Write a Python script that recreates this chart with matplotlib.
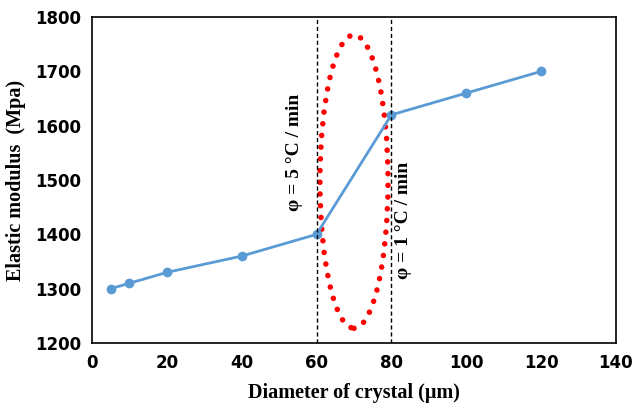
import matplotlib.pyplot as plt
from matplotlib.patches import Ellipse

# Data
diameter = [5, 10, 20, 40, 60, 80, 100, 120]
modulus = [1300, 1310, 1330, 1360, 1400, 1620, 1660, 1700]
rate_lines = [60, 80]
rate_labels = ['φ = 5 °C / min', 'φ = 1 °C / min']

fig = plt.figure(figsize=(6.32, 4.16), dpi=100)
ax = fig.add_axes([0.1456, 0.1755, 0.829, 0.7835])

ax.plot(diameter, modulus, '-o', color='#5B9BD5', lw=2, ms=6)

for xv in rate_lines:
    ax.axvline(xv, color='black', ls=(0, (3, 2)), lw=1)

ell = Ellipse((70, 1497), 18.2, 540, fill=False, edgecolor='red',
              lw=4, ls=(0, (0.01, 2.1)))
ell.set_capstyle('round')
ax.add_patch(ell)

ax.text(54.2, 1551, rate_labels[0], rotation=90, ha='center', va='center',
        fontsize=14, fontweight='bold', family='Liberation Serif')
ax.text(83.3, 1426, rate_labels[1], rotation=90, ha='center', va='center',
        fontsize=14, fontweight='bold', family='Liberation Serif')

ax.set_xlim(0, 140)
ax.set_ylim(1200, 1800)
ax.set_xticks(range(0, 141, 20))
ax.set_yticks(range(1200, 1801, 100))
ax.tick_params(length=0, labelsize=12, pad=8)
for lab in ax.get_xticklabels() + ax.get_yticklabels():
    lab.set_fontweight('bold')
    lab.set_family('Liberation Sans Narrow')

ax.set_xlabel('Diameter of crystal (μm)', fontsize=14.5, fontweight='bold',
              family='Liberation Serif', labelpad=8)
ax.set_ylabel('Elastic modulus  (Mpa)', fontsize=14.5, fontweight='bold',
              family='Liberation Serif', labelpad=6)
for sp in ax.spines.values():
    sp.set_color('black')
    sp.set_linewidth(1.2)

plt.savefig('out.png', dpi=100)
